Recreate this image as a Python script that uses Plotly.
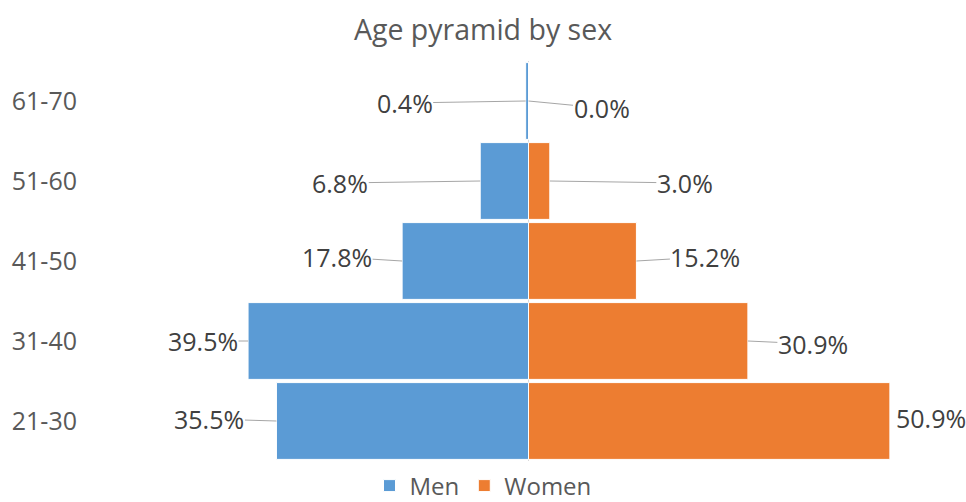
import plotly.graph_objects as go

# ---- data ----
age_groups = ["21-30", "31-40", "41-50", "51-60", "61-70"]
men_pct = [35.5, 39.5, 17.8, 6.8, 0.4]
women_pct = [50.9, 30.9, 15.2, 3.0, 0.0]
men_labels = ["35.5%", "39.5%", "17.8%", "6.8%", "0.4%"]
women_labels = ["50.9%", "30.9%", "15.2%", "3.0%", "0.0%"]

# ---- styling / layout constants ----
W, H = 966, 502
ML, MR, MT, MB = 88, 20, 61, 41
ZERO_PX = 528.5          # pixel of x = 0
PX_PER_UNIT = 7.1        # pixels per percentage point
BLUE = "#5B9BD5"
ORANGE = "#ED7D31"
TXT = "#595959"
LBL = "#404040"
LEADER = "#A6A6A6"
FONT = "Open Sans"
FS = 25

x_left = (ML - ZERO_PX) / PX_PER_UNIT
x_right = (W - MR - ZERO_PX) / PX_PER_UNIT
plot_w = W - ML - MR
plot_h = H - MT - MB

# label offsets (pixels, from bar end) per category index
men_offsets = [(-67, -2), (-45, 0), (-65, -4), (-140, 2), (-121, 2)]
women_offsets = [(41, -3), (65, 3), (69, -4), (135, 2), (73, 7)]
women_arrow = [False, True, True, True, True]

fig = go.Figure()
fig.add_trace(go.Bar(
    y=age_groups, x=[-v for v in men_pct], name="Men", orientation="h",
    marker=dict(color=BLUE, line=dict(color="white", width=1)),
    hoverinfo="skip",
))
fig.add_trace(go.Bar(
    y=age_groups, x=women_pct, name="Women", orientation="h",
    marker=dict(color=ORANGE, line=dict(color="white", width=1)),
    hoverinfo="skip",
))

annotations = []
for i, cat in enumerate(age_groups):
    for val, txt, (ax, ay), arrow in ((-men_pct[i], men_labels[i], men_offsets[i], True),
                                      (women_pct[i], women_labels[i], women_offsets[i], women_arrow[i])):
        a = dict(
            x=val, y=cat, xref="x", yref="y", text=txt,
            font=dict(family=FONT, size=FS, color=LBL),
            borderpad=0, xanchor="center", yanchor="middle",
        )
        if arrow:
            a.update(showarrow=True, ax=ax, ay=ay, arrowhead=0, arrowwidth=1,
                     arrowcolor=LEADER)
        else:
            a.update(showarrow=False, xshift=ax, yshift=-ay)
        annotations.append(a)

fig.update_layout(
    width=W, height=H,
    margin=dict(l=ML, r=MR, t=MT, b=MB, pad=0, autoexpand=False),
    paper_bgcolor="white", plot_bgcolor="white",
    barmode="overlay", bargap=0.04,
    title=dict(text="Age pyramid by sex", x=0.5, xanchor="center",
               y=1 - 30 / H, yanchor="middle", yref="container",
               font=dict(family=FONT, size=28.5, color=TXT)),
    xaxis=dict(range=[x_left, x_right], autorange=False, showticklabels=False,
               showgrid=False, zeroline=True, zerolinecolor="#D9D9D9",
               zerolinewidth=1, layer="above traces", fixedrange=True),
    yaxis=dict(showgrid=False, zeroline=False, ticks="",
               tickfont=dict(family=FONT, size=FS, color=TXT),
               ticklabelstandoff=10, fixedrange=True),
    legend=dict(orientation="h", x=(W / 2 - ML) / plot_w, xanchor="center",
                y=-(486 - (H - MB)) / plot_h, yanchor="middle",
                bgcolor="rgba(0,0,0,0)",
                font=dict(family=FONT, size=FS - 1, color=TXT),
                itemclick=False),
    annotations=annotations,
    showlegend=True,
)

fig.write_html("out.html")
